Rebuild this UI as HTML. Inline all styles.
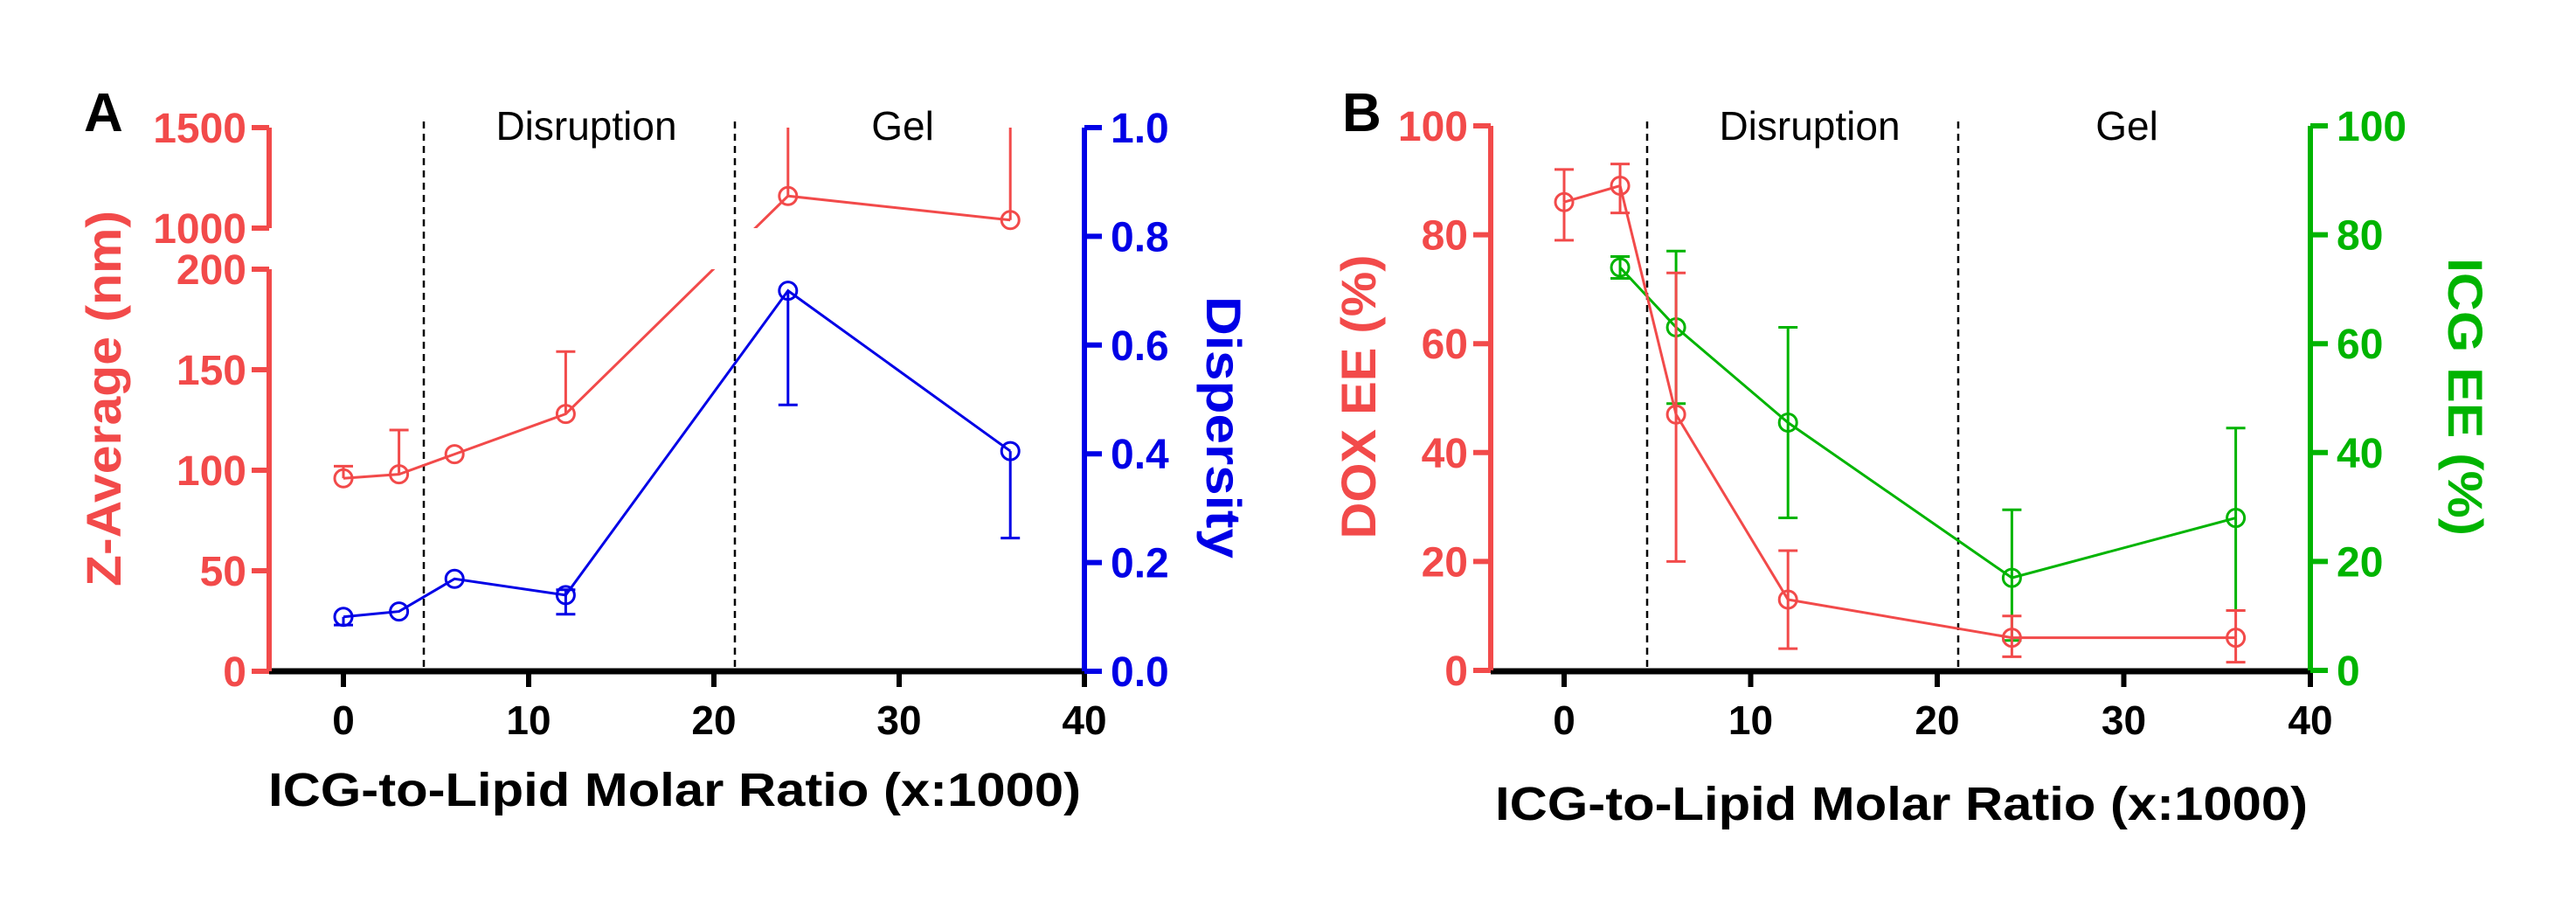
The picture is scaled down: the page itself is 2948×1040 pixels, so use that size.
<!DOCTYPE html>
<html><head><meta charset="utf-8"><style>
html,body{margin:0;padding:0;background:#fff;}
svg{display:block;font-family:"Liberation Sans",Arial,sans-serif;}
</style></head><body>
<svg id="chart" width="2948" height="1040" viewBox="0 0 2948 1040" xmlns="http://www.w3.org/2000/svg"></svg>
<script>
// ---------- data ----------
const xCats = [0, 3, 6, 12, 24, 36];
const zAvg = [96, 98, 108, 128, 1160, 1040];
const zAvgUp = [102, 120, 108, 159, 1500, 1500];
const zAvgDown = [96, 98, 108, 128, 1160, 1040];
const disp = [0.10, 0.11, 0.17, 0.14, 0.70, 0.405];
const dispUp = [0.10, 0.11, 0.17, 0.15, 0.70, 0.405];
const dispDown = [0.085, 0.11, 0.17, 0.105, 0.49, 0.245];
const doxX = [0, 3, 6, 12, 24, 36];
const dox = [86, 89, 47, 13, 6, 6];
const doxUp = [92, 93, 73, 22, 10, 11];
const doxDown = [79, 84, 20, 4, 2.5, 1.5];
const icgX = [3, 6, 12, 24, 36];
const icg = [74, 63, 45.5, 17, 28];
const icgUp = [76, 77, 63, 29.5, 44.5];
const icgDown = [72, 49, 28, 5.5, 11];
const xTicks = [0, 10, 20, 30, 40];
const zLowTicks = [0, 50, 100, 150, 200];
const zHighTicks = [1000, 1500];
const dispTicks = [0, 0.2, 0.4, 0.6, 0.8, 1.0];
const pctTicks = [0, 20, 40, 60, 80, 100];

const RED = '#f24a4a', BLUE = '#0000e6', GREEN = '#00b400';
const svg = document.getElementById('chart');
const NS = 'http://www.w3.org/2000/svg';
function mk(tag, attrs, parent) {
  const e = document.createElementNS(NS, tag);
  for (const k in attrs) e.setAttribute(k, attrs[k]);
  (parent || svg).appendChild(e);
  return e;
}
function txt(s, attrs, parent) { const t = mk('text', attrs, parent); t.textContent = s; return t; }

// ---------- scales ----------
const xA = v => 393 + (v / 10) * 212;
const xB = v => 1790 + (v / 10) * 213.5;
const AX0 = 768;
function yZ(v) {
  if (v <= 200) return AX0 - v * (460 / 200);
  if (v >= 1000) return 261 - (v - 1000) * (115 / 500);
  return 308 - (v - 200) / 800 * 47;
}
const yD = v => AX0 - v * 622;
const yP = v => 767 - v * 6.23;

function fmt(v, d) { return d ? v.toFixed(d) : String(v); }

function drawSeries(g, xs, ys, ups, downs, xf, yf, color, name, clip) {
  const lg = mk('g', clip ? {'clip-path': clip} : {}, g);
  let d = '';
  xs.forEach((x, i) => { d += (i ? 'L' : 'M') + xf(x) + ',' + yf(ys[i]); });
  const p = mk('path', {d: d, fill: 'none', stroke: color, 'stroke-width': 3}, lg);
  
  
  xs.forEach((x, i) => {
    const cx = xf(x), cy = yf(ys[i]);
    const yu = yf(ups[i]), yd = yf(downs[i]);
    if (Math.abs(yu - cy) > 1) {
      const e = mk('path', {d: `M${cx},${cy}L${cx},${yu}` + (ups[i] < 1400 || yf === yP ? `M${cx-11},${yu}L${cx+11},${yu}` : ''), stroke: color, 'stroke-width': 3, fill: 'none'}, g);
      
      
    }
    if (Math.abs(yd - cy) > 1) {
      const e = mk('path', {d: `M${cx},${cy}L${cx},${yd}M${cx-11},${yd}L${cx+11},${yd}`, stroke: color, 'stroke-width': 3, fill: 'none'}, g);
      
      
    }
    const c = mk('circle', {cx: cx, cy: cy, r: 10, fill: 'none', stroke: color, 'stroke-width': 3}, g);
    
    
  });
}

function panelCommon(g, xf, left, right, dash1, dash2, letter, letterX, disX, gelX, titleX, titleY) {
  // dashed lines
  [dash1, dash2].forEach(x => {
    const l = mk('line', {x1: x, y1: 139, x2: x, y2: AX0, stroke: '#000', 'stroke-width': 2.5, 'stroke-dasharray': '8,6'}, g);
    
    
  });
  const t1 = txt('Disruption', {x: disX, y: 160, 'font-size': 46, 'text-anchor': 'middle', fill: '#000'}, g);
  
  
  const t2 = txt('Gel', {x: gelX, y: 160, 'font-size': 46, 'text-anchor': 'middle', fill: '#000'}, g);
  
  
  const pl = txt(letter, {x: letterX, y: 150, 'font-size': 62, 'font-weight': 'bold', fill: '#000'}, g);
  
  
  // x axis
  const xa = mk('line', {x1: left, y1: AX0, x2: right, y2: AX0, stroke: '#000', 'stroke-width': 7}, g);
  
  
  xTicks.forEach(v => {
    const tk = mk('line', {x1: xf(v), y1: AX0, x2: xf(v), y2: 786, stroke: '#000', 'stroke-width': 6}, g);
    
    
    const tl = txt(String(v), {x: xf(v), y: 840, 'font-size': 46, 'font-weight': 'bold', 'text-anchor': 'middle', fill: '#000'}, g);
    
    
  });
  const xt = txt('ICG-to-Lipid Molar Ratio (x:1000)', {x: titleX, y: titleY, 'font-size': 54, 'font-weight': 'bold', 'text-anchor': 'middle', fill: '#000', textLength: 930, lengthAdjust: 'spacingAndGlyphs'}, g);
  
  
}

function yAxis(g, x, y1, y2, ticks, yf, color, side, dec, name) {
  const a = mk('line', {x1: x, y1: y1, x2: x, y2: y2, stroke: color, 'stroke-width': 6}, g);
  
  
  ticks.forEach(v => {
    const y = yf(v);
    const dx = side === 'left' ? -20 : 20;
    const tk = mk('line', {x1: x, y1: y, x2: x + dx, y2: y, stroke: color, 'stroke-width': 6}, g);
    
    
    const tl = txt(fmt(v, dec), {x: side === 'left' ? x - 26 : x + 30, y: y + 17, 'font-size': 48, 'font-weight': 'bold', 'text-anchor': side === 'left' ? 'end' : 'start', fill: color}, g);
    
    
  });
}

function rotTitle(g, s, x, y, angle, color, len, name) {
  const t = txt(s, {x: 0, y: 0, 'font-size': 56, 'font-weight': 'bold', 'text-anchor': 'middle', fill: color, textLength: len, lengthAdjust: 'spacingAndGlyphs', transform: `translate(${x},${y}) rotate(${angle})`}, g);
  
  
}

// ---------- Panel A ----------
const gA = mk('g', {});


const defs = mk('defs', {});
const cp = mk('clipPath', {id: 'breakClip'}, defs);
mk('path', {d: 'M0,0H2948V261H0ZM0,308H2948V1040H0Z'}, cp);
panelCommon(gA, xA, 308, 1241, 485, 841, 'A', 96, 671, 1033, 772, 922);
yAxis(gA, 308, 308, AX0, zLowTicks, yZ, RED, 'left', 0, 'z-average-axis-lower');
yAxis(gA, 308, 146, 261, zHighTicks, yZ, RED, 'left', 0, 'z-average-axis-upper');
yAxis(gA, 1241, 146, AX0, dispTicks, yD, BLUE, 'right', 1, 'dispersity-axis');
rotTitle(gA, 'Z-Average (nm)', 138, 456, -90, RED, 430, 'z-average-axis-title');
rotTitle(gA, 'Dispersity', 1381, 489, 90, BLUE, 300, 'dispersity-axis-title');
drawSeries(gA, xCats, zAvg, zAvgUp, zAvgDown, xA, yZ, RED, 'z-average', 'url(#breakClip)');
drawSeries(gA, xCats, disp, dispUp, dispDown, xA, yD, BLUE, 'dispersity', null);

// ---------- Panel B ----------
const gB = mk('g', {});


panelCommon(gB, xB, 1706, 2644, 1885, 2241, 'B', 1536, 2071, 2434, 2176, 938);
yAxis(gB, 1706, 144, 767, pctTicks, yP, RED, 'left', 0, 'dox-ee-axis');
yAxis(gB, 2644, 144, 767, pctTicks, yP, GREEN, 'right', 0, 'icg-ee-axis');
rotTitle(gB, 'DOX EE (%)', 1574, 454, -90, RED, 325, 'dox-ee-axis-title');
rotTitle(gB, 'ICG EE  (%)', 2802, 454, 90, GREEN, 318, 'icg-ee-axis-title');
drawSeries(gB, icgX, icg, icgUp, icgDown, xB, yP, GREEN, 'icg-ee', null);
drawSeries(gB, doxX, dox, doxUp, doxDown, xB, yP, RED, 'dox-ee', null);
</script>
</body></html>
